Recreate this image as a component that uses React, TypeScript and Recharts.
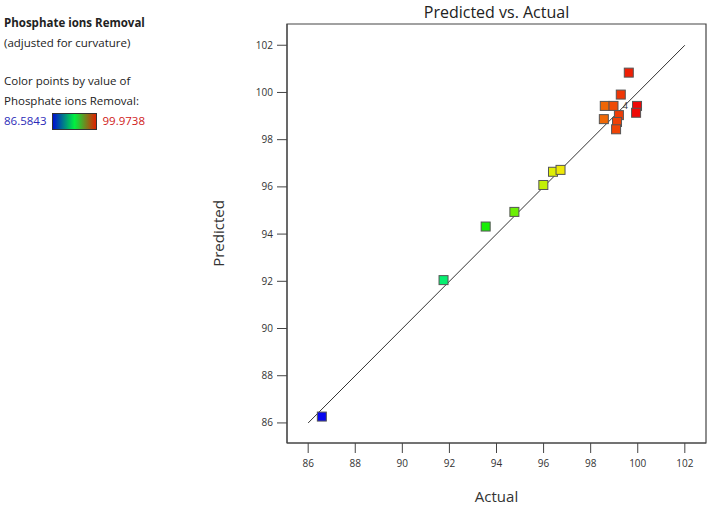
import React from 'react';
import { ScatterChart, Scatter, XAxis, YAxis, ReferenceLine, ReferenceDot, ReferenceArea } from 'recharts';

const actual = [86.58, 91.75, 93.54, 94.76, 95.99, 96.40, 96.72, 99.62, 99.28, 98.60, 98.97, 99.97, 99.93, 99.20, 98.56, 99.12, 99.08];
const predicted = [86.27, 92.05, 94.32, 94.94, 96.08, 96.64, 96.72, 100.84, 99.91, 99.43, 99.43, 99.43, 99.14, 99.04, 98.87, 98.75, 98.44];
const ticks = [86, 88, 90, 92, 94, 96, 98, 100, 102];
const colorMin = 86.5843;
const colorMax = 99.9738;
const xDomain = [85.1, 102.9];
const yDomain = [85.15, 102.9];

const data = actual.map((a, i) => ({ actual: a, predicted: predicted[i] }));

const FONT = '"Open Sans", "Noto Sans", sans-serif';

function colorFor(v: number) {
  const t = Math.max(0, Math.min(1, (v - colorMin) / (colorMax - colorMin)));
  const hue = 240 * (1 - t);
  return `hsl(${hue}, 95%, 48%)`;
}

const Square = (props: any) => {
  const { cx, cy, payload } = props;
  const s = 9;
  return <rect x={cx - s / 2} y={cy - s / 2} width={s} height={s} fill={colorFor(payload.actual)} stroke="#555" strokeWidth={1} />;
};

export default function App() {
  const W = 708, H = 506;
  return (
    <div style={{ position: 'absolute', left: 0, top: 0, width: W, height: H, fontFamily: FONT, background: '#fff' }}>
      <ScatterChart width={W} height={H} margin={{ top: 24, right: 2, bottom: 0, left: 0 }}>
        <XAxis type="number" dataKey="actual" domain={xDomain} ticks={ticks} allowDataOverflow
          height={63} tickSize={10} tickMargin={7} stroke="#444"
          tick={{ fontSize: 10, fill: '#333', fontFamily: FONT }}
          label={{ value: 'Actual', position: 'insideBottom', offset: 4, fontSize: 15, fill: '#333', fontFamily: FONT }} />
        <YAxis type="number" dataKey="predicted" domain={yDomain} ticks={ticks} allowDataOverflow
          width={287} tickSize={10} tickMargin={4} stroke="#444"
          tick={{ fontSize: 10, fill: '#333', fontFamily: FONT }}
          label={({ viewBox }: any) => (
            <text x={218} y={viewBox.y + viewBox.height / 2} transform={`rotate(-90, 218, ${viewBox.y + viewBox.height / 2})`}
              textAnchor="middle" dominantBaseline="central" fontSize={15} fill="#333" fontFamily={FONT}>Predicted</text>
          )} />
        <ReferenceArea x1={xDomain[0]} x2={xDomain[1]} y1={yDomain[0]} y2={yDomain[1]} fill="none" fillOpacity={0} stroke="#444" strokeWidth={1.2} ifOverflow="visible" />
        <ReferenceLine segment={[{ x: 86, y: 86 }, { x: 102, y: 102 }]} stroke="#333" strokeWidth={1} ifOverflow="visible" />
        <Scatter data={data} shape={Square} isAnimationActive={false} />
        <ReferenceDot x={99.97} y={99.43} r={0} ifOverflow="visible"
          label={{ value: '4', position: 'left', offset: 9, fontSize: 9, fill: '#333', fontFamily: FONT }} />
      </ScatterChart>
      <div style={{ position: 'absolute', left: 287, width: 419, top: 1, textAlign: 'center', fontSize: 16, color: '#222' }}>Predicted vs. Actual</div>
      <div style={{ position: 'absolute', left: 4, top: 13, fontSize: 11.5, color: '#222', lineHeight: '20px' }}>
        <div style={{ fontWeight: 700 }}>Phosphate ions Removal</div>
        <div>(adjusted for curvature)</div>
        <div style={{ height: 18 }} />
        <div>Color points by value of</div>
        <div>Phosphate ions Removal:</div>
        <div style={{ display: 'flex', alignItems: 'center' }}>
          <span style={{ color: '#2b2bb8' }}>86.5843</span>
          <span style={{ display: 'inline-block', width: 43, height: 15, margin: '0 5px 0 6px', border: '1px solid #333', background: 'linear-gradient(to right, #0010d0, #00f040 50%, #e02000)' }} />
          <span style={{ color: '#d02020' }}>99.9738</span>
        </div>
      </div>
    </div>
  );
}
